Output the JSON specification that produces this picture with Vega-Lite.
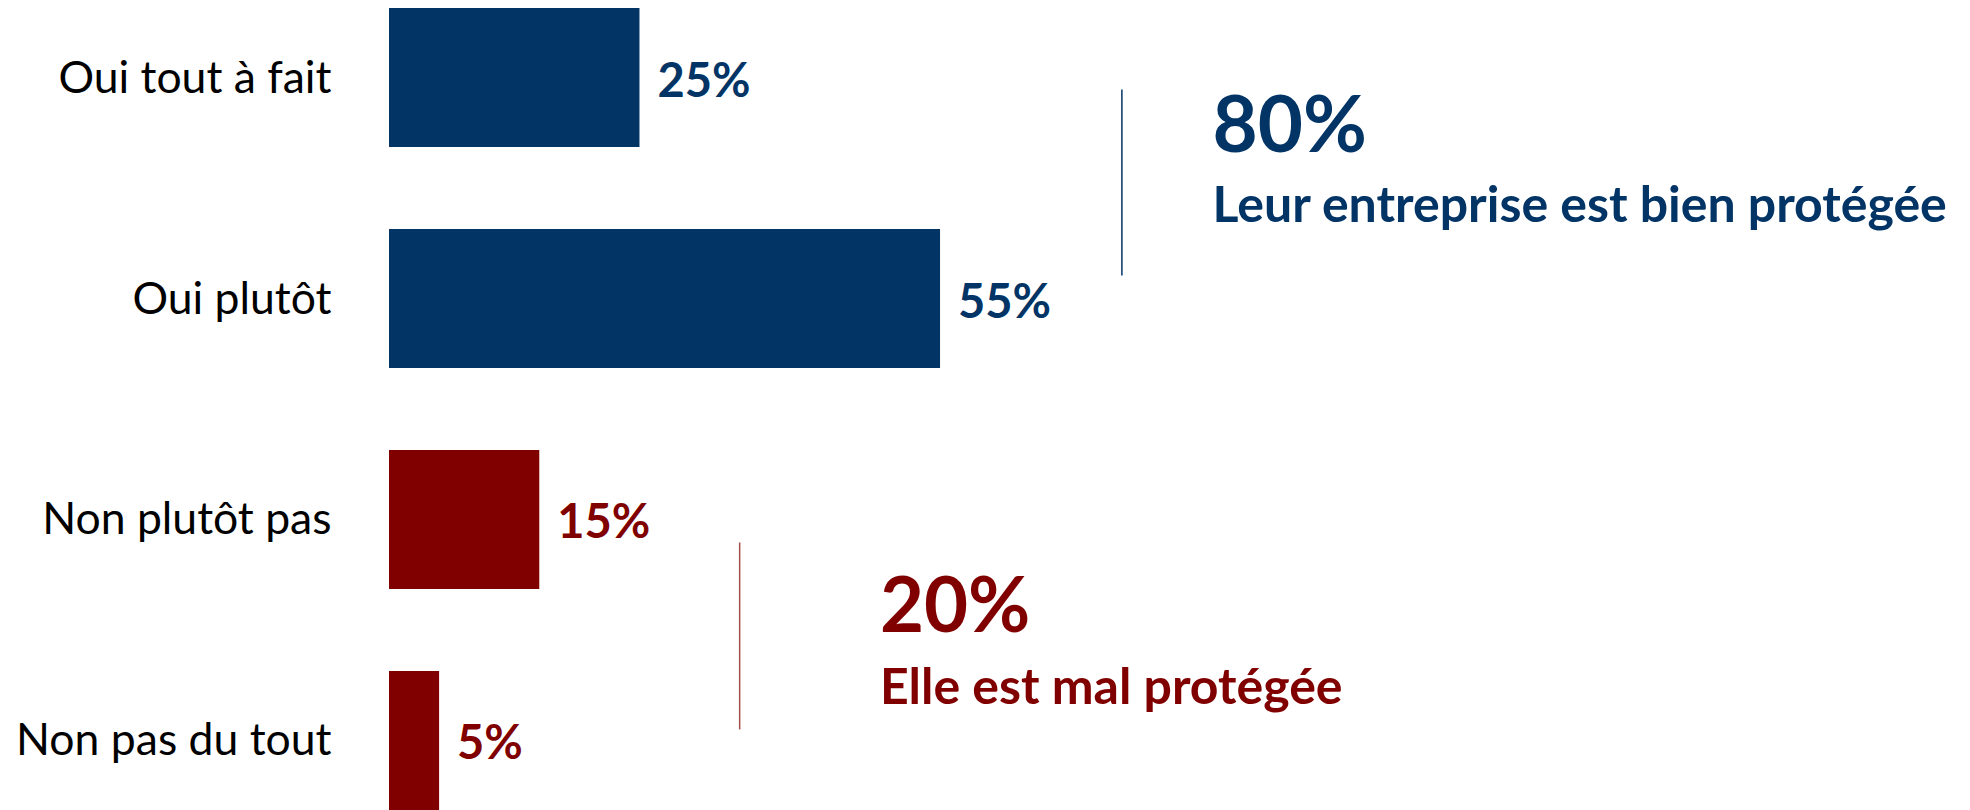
{
  "$schema": "https://vega.github.io/schema/vega-lite/v6.json",
  "autosize": "none",
  "width": 1581,
  "height": 802,
  "padding": {"left": 389, "top": 8, "right": 0, "bottom": 0},
  "background": "white",
  "config": {"view": {"stroke": null}, "font": "Lato"},
  "datasets": {
    "bars": [
      {"reponse": "Oui tout à fait", "pct": 0.25, "groupe": "oui"},
      {"reponse": "Oui plutôt", "pct": 0.55, "groupe": "oui"},
      {"reponse": "Non plutôt pas", "pct": 0.15, "groupe": "non"},
      {"reponse": "Non pas du tout", "pct": 0.05, "groupe": "non"}
    ],
    "groupes": [
      {"groupe": "oui", "total": 0.80, "libelle": "Leur entreprise est bien protégée"},
      {"groupe": "non", "total": 0.20, "libelle": "Elle est mal protégée"}
    ]
  },
  "resolve": {"scale": {"color": "shared"}},
  "layer": [
    {
      "data": {"name": "bars"},
      "mark": {"type": "bar"},
      "encoding": {
        "y": {
          "field": "reponse", "type": "nominal",
          "scale": {"domain": ["Oui tout à fait", "Oui plutôt", "Non plutôt pas", "Non pas du tout"], "paddingInner": 0.3705, "paddingOuter": 0},
          "axis": {"title": null, "ticks": false, "domain": false, "labelFont": "Lato", "labelFontSize": 44.5, "labelColor": "#000000", "labelPadding": 58, "labelLimit": 1000, "labelBaseline": "alphabetic", "labelOffset": 15}
        },
        "x": {"field": "pct", "type": "quantitative", "scale": {"domain": [0, 1.578], "nice": false, "zero": true}, "axis": null},
        "color": {"field": "groupe", "type": "nominal", "scale": {"domain": ["oui", "non"], "range": ["#023466", "#800000"]}, "legend": null}
      }
    },
    {
      "data": {"name": "bars"},
      "mark": {"type": "text", "align": "left", "baseline": "alphabetic", "dx": 18, "dy": 19, "font": "Lato", "fontWeight": "bold", "fontSize": 47},
      "encoding": {
        "y": {"field": "reponse", "type": "nominal"},
        "x": {"field": "pct", "type": "quantitative"},
        "text": {"field": "pct", "type": "quantitative", "format": ".0%"},
        "color": {"field": "groupe", "type": "nominal", "legend": null}
      }
    },
    {
      "data": {"name": "groupes"},
      "transform": [{"filter": "datum.groupe == 'oui'"}],
      "mark": {"type": "rule", "strokeWidth": 1.5, "yOffset": 12, "y2Offset": -23},
      "encoding": {
        "x": {"datum": 0.7315},
        "y": {"datum": "Oui tout à fait"},
        "y2": {"datum": "Oui plutôt"},
        "color": {"field": "groupe", "type": "nominal", "legend": null}
      }
    },
    {
      "data": {"name": "groupes"},
      "transform": [{"filter": "datum.groupe == 'non'"}],
      "mark": {"type": "rule", "strokeWidth": 1.5, "opacity": 0.7, "yOffset": 23, "y2Offset": -11},
      "encoding": {
        "x": {"datum": 0.350},
        "y": {"datum": "Non plutôt pas"},
        "y2": {"datum": "Non pas du tout"},
        "color": {"field": "groupe", "type": "nominal", "legend": null}
      }
    },
    {
      "data": {"name": "groupes"},
      "transform": [{"filter": "datum.groupe == 'oui'"}],
      "mark": {"type": "text", "align": "left", "baseline": "alphabetic", "dy": 74, "font": "Lato", "fontWeight": "bold", "fontSize": 78},
      "encoding": {
        "x": {"datum": 0.822},
        "y": {"datum": "Oui tout à fait"},
        "text": {"field": "total", "type": "quantitative", "format": ".0%"},
        "color": {"field": "groupe", "type": "nominal", "legend": null}
      }
    },
    {
      "data": {"name": "groupes"},
      "transform": [{"filter": "datum.groupe == 'oui'"}],
      "mark": {"type": "text", "align": "left", "baseline": "alphabetic", "dy": -77, "font": "Lato", "fontWeight": "bold", "fontSize": 50},
      "encoding": {
        "x": {"datum": 0.822},
        "y": {"datum": "Oui plutôt"},
        "text": {"field": "libelle", "type": "nominal"},
        "color": {"field": "groupe", "type": "nominal", "legend": null}
      }
    },
    {
      "data": {"name": "groupes"},
      "transform": [{"filter": "datum.groupe == 'non'"}],
      "mark": {"type": "text", "align": "left", "baseline": "alphabetic", "dy": 113, "font": "Lato", "fontWeight": "bold", "fontSize": 76},
      "encoding": {
        "x": {"datum": 0.49},
        "y": {"datum": "Non plutôt pas"},
        "text": {"field": "total", "type": "quantitative", "format": ".0%"},
        "color": {"field": "groupe", "type": "nominal", "legend": null}
      }
    },
    {
      "data": {"name": "groupes"},
      "transform": [{"filter": "datum.groupe == 'non'"}],
      "mark": {"type": "text", "align": "left", "baseline": "alphabetic", "dy": -36, "font": "Lato", "fontWeight": "bold", "fontSize": 50},
      "encoding": {
        "x": {"datum": 0.49},
        "y": {"datum": "Non pas du tout"},
        "text": {"field": "libelle", "type": "nominal"},
        "color": {"field": "groupe", "type": "nominal", "legend": null}
      }
    }
  ]
}
